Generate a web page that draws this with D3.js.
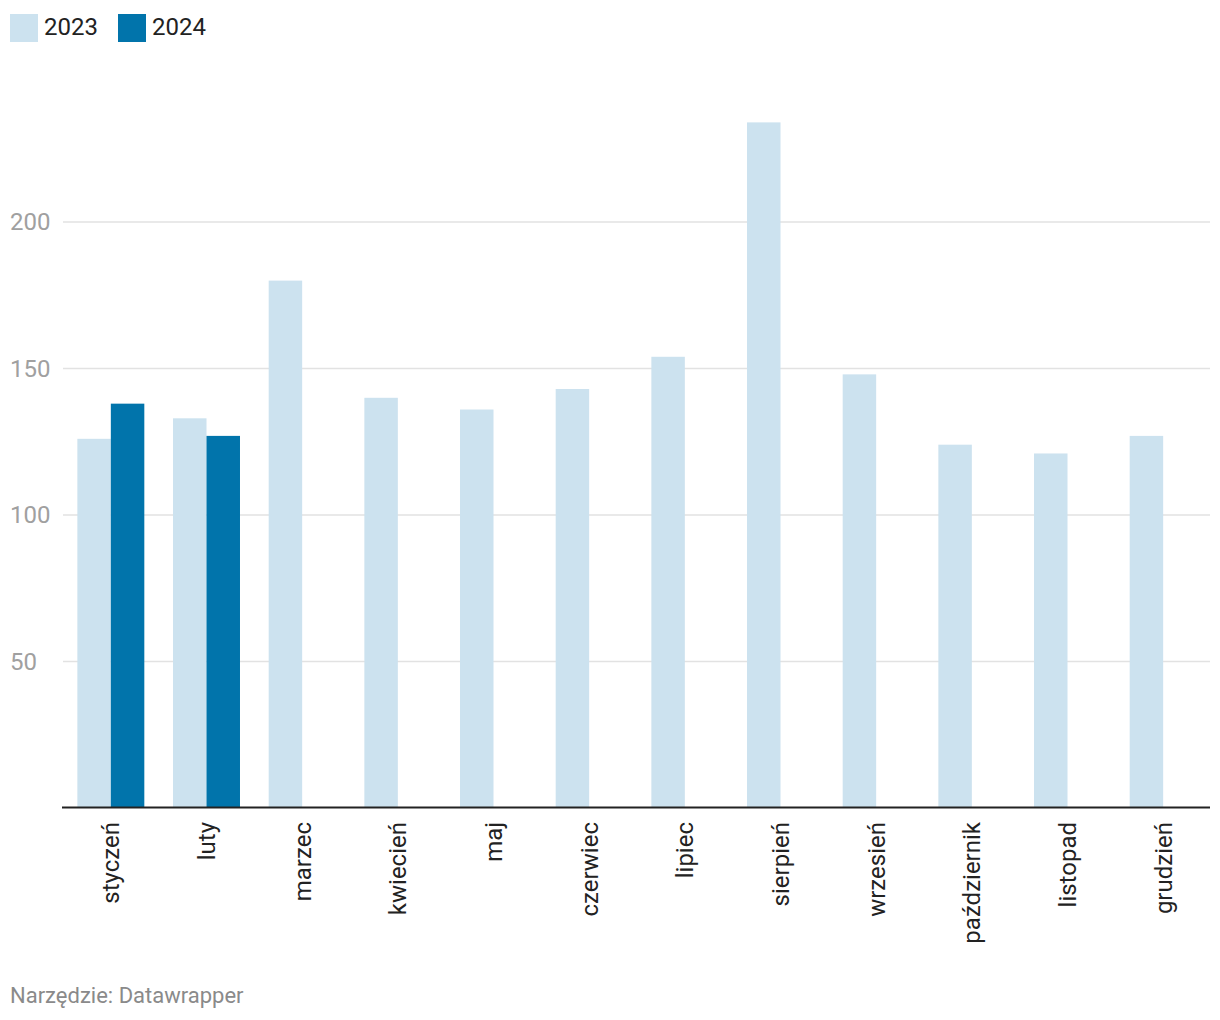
<!DOCTYPE html>
<html><head><meta charset="utf-8">
<script src="https://cdn.jsdelivr.net/npm/d3@7"></script>
<style>body{margin:0;background:#fff;font-family:Roboto,"Noto Sans",sans-serif;}</style>
</head><body><svg id="c" width="1220" height="1020"></svg>
<script>
const months = ["styczeń","luty","marzec","kwiecień","maj","czerwiec","lipiec","sierpień","wrzesień","październik","listopad","grudzień"];
const series = ["2023","2024"];
const values2023 = [126,133,180,140,136,143,154,234,148,124,121,127];
const values2024 = [138,127,null,null,null,null,null,null,null,null,null,null];
const yTicks = [50,100,150,200];
const colors = ["#cce2ef","#0174ab"];

const svg = d3.select("#c");
const left = 62, right = 1210, base = 808;
const x = d3.scaleBand().domain(months).range([left+1,right+1]).paddingInner(0.3).paddingOuter(0.15);
const xs = d3.scaleBand().domain(series).range([0,x.bandwidth()]);
const y = d3.scaleLinear().domain([0,200]).range([base,222]);

// gridlines
svg.append("g").selectAll("line").data(yTicks).join("line")
  .attr("x1",left+1).attr("x2",right).attr("y1",d=>y(d)).attr("y2",d=>y(d))
  .attr("stroke","#e2e2e2").attr("stroke-width",1.5);
svg.append("g").selectAll("text").data(yTicks).join("text")
  .attr("x",10).attr("y",d=>y(d)).attr("dy","0.35em")
  .attr("font-size",24).attr("fill","#a0a0a0").text(d=>d);

const data = months.map((m,i)=>({m, v:[values2023[i],values2024[i]]}));
const g = svg.append("g");
data.forEach(d=>{
  series.forEach((s,j)=>{
    const v = d.v[j];
    if(v==null) return;
    g.append("rect").attr("x",x(d.m)+xs(s)).attr("width",xs.bandwidth())
      .attr("y",y(v)).attr("height",base-y(v)).attr("fill",colors[j]);
  });
});

// baseline
svg.append("line").attr("x1",left).attr("x2",right).attr("y1",base-0.5).attr("y2",base-0.5)
  .attr("stroke","#222").attr("stroke-width",2);

// month labels
svg.append("g").selectAll("text").data(months).join("text")
  .attr("transform",d=>`translate(${x(d)+x.bandwidth()/2},822) rotate(-90)`)
  .attr("text-anchor","end").attr("dy","0.35em")
  .attr("font-size",24).attr("fill","#222").text(d=>d);

// legend
const lg = svg.append("g");
const lx = [10,118];
series.forEach((s,i)=>{
  lg.append("rect").attr("x",lx[i]).attr("y",14).attr("width",28).attr("height",28).attr("fill",colors[i]);
  lg.append("text").attr("x",lx[i]+34).attr("y",35).attr("font-size",24).attr("fill","#222").text(s);
});

svg.append("text").attr("x",10).attr("y",1003).attr("font-size",22).attr("fill","#8a8a8a").text("Narzędzie: Datawrapper");
</script></body></html>
